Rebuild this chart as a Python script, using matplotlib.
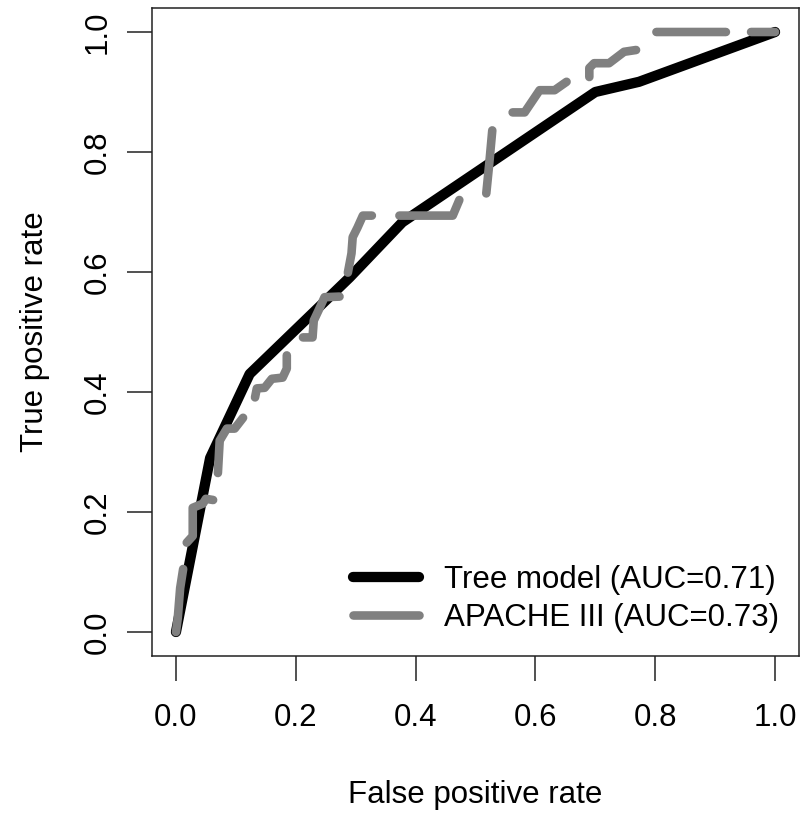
import numpy as np
import matplotlib
matplotlib.use("Agg")
import matplotlib.pyplot as plt

plt.rcParams['font.family'] = ['Liberation Sans', 'DejaVu Sans']

# Tree model ROC (piecewise linear)
tree_fpr = [0.0, 0.057, 0.123, 0.290, 0.378, 0.700, 0.773, 1.0]
tree_tpr = [0.0, 0.290, 0.430, 0.591, 0.683, 0.900, 0.917, 1.0]

# APACHE III ROC, drawn in pieces (nan = gap)
nan = np.nan
apache_fpr = [0.0, 0.003, 0.007, 0.012, nan,
              0.018, 0.028, 0.028, 0.045, 0.050, 0.062, nan,
              0.070, 0.073, 0.085, 0.098, 0.112, nan,
              0.132, 0.135, 0.148, 0.160, 0.178, 0.185, 0.185, nan,
              0.212, 0.228, 0.230, 0.238, 0.248, 0.273, nan,
              0.287, 0.293, 0.295, 0.303, 0.312, 0.327, nan,
              0.373, 0.462, 0.473, nan,
              0.518, 0.523, 0.528, nan,
              0.562, 0.582, 0.607, 0.632, 0.652, nan,
              0.690, 0.690, 0.698, 0.723, 0.748, 0.768, nan,
              0.802, 0.918, nan,
              0.960, 1.0]
apache_tpr = [0.0, 0.023, 0.073, 0.105, nan,
              0.149, 0.160, 0.207, 0.214, 0.222, 0.220, nan,
              0.265, 0.319, 0.339, 0.339, 0.357, nan,
              0.391, 0.406, 0.407, 0.422, 0.424, 0.439, 0.461, nan,
              0.491, 0.491, 0.519, 0.536, 0.558, 0.559, nan,
              0.599, 0.631, 0.658, 0.674, 0.694, 0.694, nan,
              0.694, 0.694, 0.720, nan,
              0.731, 0.781, 0.836, nan,
              0.866, 0.866, 0.903, 0.903, 0.917, nan,
              0.925, 0.940, 0.948, 0.948, 0.967, 0.970, nan,
              1.0, 1.0, nan,
              1.0, 1.0]

labels = ['Tree model (AUC=0.71)', 'APACHE III (AUC=0.73)']
ticks = [0.0, 0.2, 0.4, 0.6, 0.8, 1.0]
tick_labels = ['0.0', '0.2', '0.4', '0.6', '0.8', '1.0']

W, H = 804, 817
fs = 22.5
fig = plt.figure(figsize=(W / 100, H / 100), dpi=100)
ax = fig.add_axes([152 / W, 1 - 656 / H, (799 - 152) / W, (656 - 8) / H])

ax.plot(tree_fpr, tree_tpr, color='black', lw=7.4,
        solid_capstyle='round', solid_joinstyle='round', label=labels[0])
ax.plot(apache_fpr, apache_tpr, color='#808080', lw=6.2,
        solid_capstyle='round', solid_joinstyle='round', label=labels[1])

ax.set_xlim(-0.04, 1.04)
ax.set_ylim(-0.04, 1.04)
ax.set_xticks(ticks)
ax.set_xticklabels(tick_labels)
ax.set_yticks(ticks)
ax.set_yticklabels(tick_labels, rotation=90, va='center')

ax.tick_params(axis='both', direction='out', length=18, width=1.1,
               labelsize=fs, color='#222222')
ax.tick_params(axis='x', pad=16)
ax.tick_params(axis='y', pad=10)
for sp in ax.spines.values():
    sp.set_linewidth(1.1)
    sp.set_color('#222222')

ax.set_xlabel('False positive rate', fontsize=fs, labelpad=34)
ax.set_ylabel('True positive rate', fontsize=fs, labelpad=24)

ax.legend(loc='upper left', bbox_to_anchor=(0.311, 0.140), frameon=False,
          fontsize=fs, handlelength=2.1, handletextpad=0.8,
          labelspacing=0.25, borderpad=0, borderaxespad=0)

fig.savefig('out.png', dpi=100)
